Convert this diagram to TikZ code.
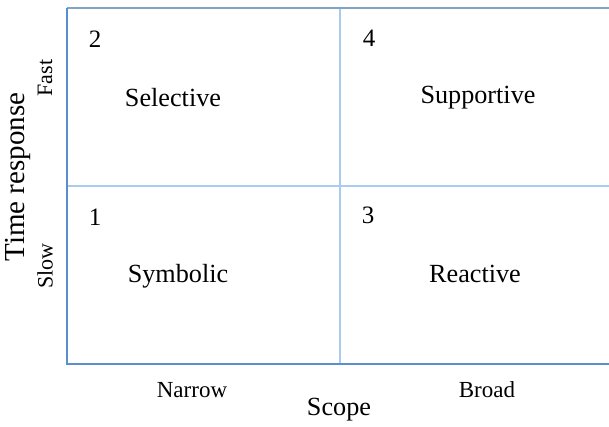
\documentclass[tikz,border=0pt]{standalone}
\usepackage{fontspec}
\setmainfont{Liberation Serif}
\definecolor{outerblue}{HTML}{5A8FCF}
\definecolor{topblue}{HTML}{7FA6C4}
\definecolor{innerblue}{HTML}{A9CBEF}
\begin{document}
\begin{tikzpicture}[x=1pt,y=-1pt,
  lbl/.style={inner sep=0pt, font=\fontsize{26.2}{30}\selectfont},
  num/.style={inner sep=0pt, font=\fontsize{25}{28}\selectfont},
  axl/.style={inner sep=0pt, font=\fontsize{23}{26}\selectfont},
  small/.style={inner sep=0pt, font=\fontsize{22}{26}\selectfont},
  divider/.style={innerblue, line width=1.6pt},
  frame/.style={outerblue, line width=2pt}]
\useasboundingbox (0,0) rectangle (609,427);
% frame
\coordinate (tl) at (67,8);
\coordinate (bl) at (67,364);
\coordinate (tr) at (612,8);
\coordinate (br) at (612,364);
\coordinate (vt) at (340,8);
\coordinate (vb) at (340,364);
\coordinate (hl) at (67,186);
\coordinate (hr) at (612,186);
\draw[divider] (vt) -- (vb);
\draw[divider] (hl) -- (hr);
\draw[topblue, line width=2pt] (tl) -- (tr);
\draw[frame] (tl) -- (bl) -- (br);
% numbers
\node[num] (n2) at (95,39) {2};
\node[num] (n4) at (369,38) {4};
\node[num] (n1) at (95,217) {1};
\node[num] (n3) at (368,215) {3};
% quadrant labels
\node[lbl] (sel) at (173,98) {Selective};
\node[lbl] (sup) at (478,98) {Supportive};
\node[lbl] (sym) at (178,276) {Symbolic};
\node[lbl] (rea) at (475,274) {Reactive};
% axes
\node[axl] (nar) at (192,390) {Narrow};
\node[axl] (bro) at (487,390) {Broad};
\node[lbl] (sco) at (339,410) {Scope};
\node[inner sep=0pt, font=\fontsize{29}{32}\selectfont, rotate=90] (tim) at (18,177) {Time response};
\node[small, rotate=90] (fas) at (45,78) {Fast};
\node[small, rotate=90] (slo) at (45,266) {Slow};
\end{tikzpicture}
\end{document}
